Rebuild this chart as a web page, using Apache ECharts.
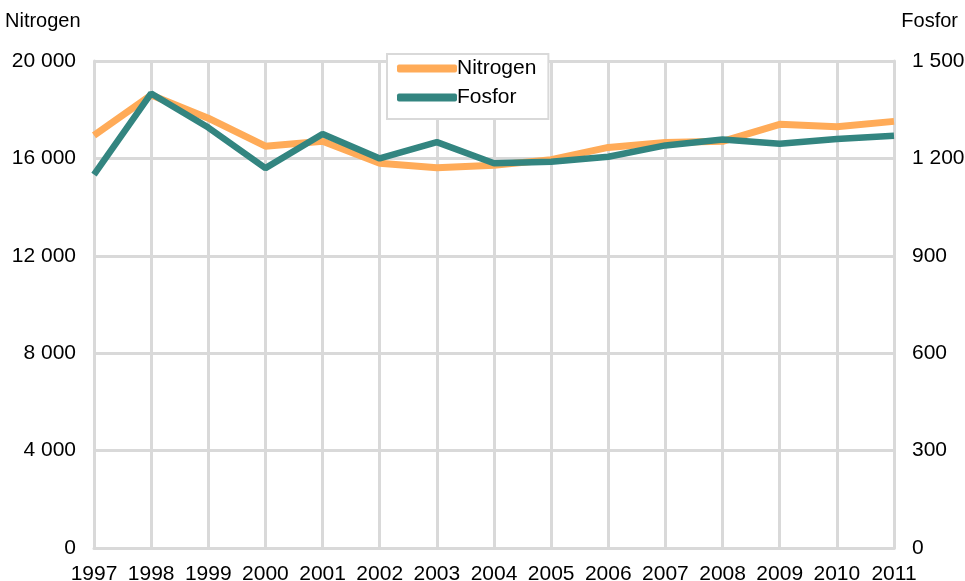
<!DOCTYPE html>
<html>
<head>
    <meta charset="utf-8">
    <title>Nitrogen og fosfor</title>
    <script src="https://cdn.jsdelivr.net/npm/echarts@6/dist/echarts.min.js"></script>
</head>
<body style="margin:0">
<div id="main" style="width: 965px;height:581px;"></div>
<script type="text/javascript">
    var years = ['1997', '1998', '1999', '2000', '2001', '2002', '2003', '2004',
                 '2005', '2006', '2007', '2008', '2009', '2010', '2011'];
    // Nitrogen, venstre akse
    var nitrogen = [16950, 18600, 17650, 16500, 16700, 15800, 15620, 15720,
                    15950, 16450, 16650, 16700, 17400, 17300, 17520];
    // Fosfor, høyre akse
    var fosfor = [1150, 1400, 1295, 1170, 1275, 1200, 1250, 1185,
                  1190, 1205, 1240, 1258, 1245, 1260, 1270];

    var gridColor = '#d9d9d9';
    var font = 'Liberation Sans, Arial';
    var txt = {color: '#000', fontFamily: font, fontSize: 20};
    var tick = {color: '#000', fontFamily: font, fontSize: 21};

    function spaced(v) {
        return String(v).replace(/\B(?=(\d{3})+(?!\d))/g, ' ');
    }

    var myChart = echarts.init(document.getElementById('main'));
    var option = {
        animation: false,
        grid: {left: 94, right: 71, top: 61, bottom: 33, outerBoundsMode: 'none'},
        legend: {
            orient: 'vertical',
            left: 387,
            top: 54,
            padding: [4, 12, 11, 10],
            itemGap: 8,
            itemWidth: 60,
            itemHeight: 8,
            icon: 'roundRect',
            backgroundColor: '#fff',
            borderColor: gridColor,
            borderWidth: 2,
            textStyle: {color: '#000', fontFamily: font, fontSize: 21, padding: [0, 0, 0, -5]},
            data: ['Nitrogen', 'Fosfor']
        },
        xAxis: {
            type: 'category',
            data: years,
            boundaryGap: false,
            axisLine: {lineStyle: {color: gridColor, width: 3}},
            axisTick: {show: false},
            splitLine: {show: true, lineStyle: {color: gridColor, width: 3}},
            axisLabel: Object.assign({margin: 16, interval: 0}, tick)
        },
        yAxis: [{
            type: 'value',
            name: 'Nitrogen',
            nameLocation: 'end',
            nameGap: 30,
            nameTextStyle: Object.assign({align: 'left', padding: [0, 0, 0, -89]}, txt),
            min: 0, max: 20000, interval: 4000,
            axisLine: {show: true, lineStyle: {color: gridColor, width: 3}},
            axisTick: {show: false},
            splitLine: {lineStyle: {color: gridColor, width: 3}},
            axisLabel: Object.assign({margin: 18, formatter: spaced}, tick)
        }, {
            type: 'value',
            name: 'Fosfor',
            nameLocation: 'end',
            nameGap: 30,
            nameTextStyle: Object.assign({align: 'right', padding: [0, -64, 0, 0]}, txt),
            min: 0, max: 1500, interval: 300,
            position: 'right',
            axisLine: {show: true, lineStyle: {color: gridColor, width: 3}},
            axisTick: {show: false},
            splitLine: {show: false},
            axisLabel: Object.assign({margin: 18, formatter: spaced}, tick)
        }],
        series: [{
            name: 'Nitrogen',
            type: 'line',
            yAxisIndex: 0,
            data: nitrogen,
            symbol: 'none',
            color: '#ffab58',
            lineStyle: {width: 7, color: '#ffab58'}
        }, {
            name: 'Fosfor',
            type: 'line',
            yAxisIndex: 1,
            data: fosfor,
            symbol: 'none',
            color: '#338580',
            lineStyle: {width: 6.5, color: '#338580'}
        }]
    };
    myChart.setOption(option);
</script>
</body>
</html>
